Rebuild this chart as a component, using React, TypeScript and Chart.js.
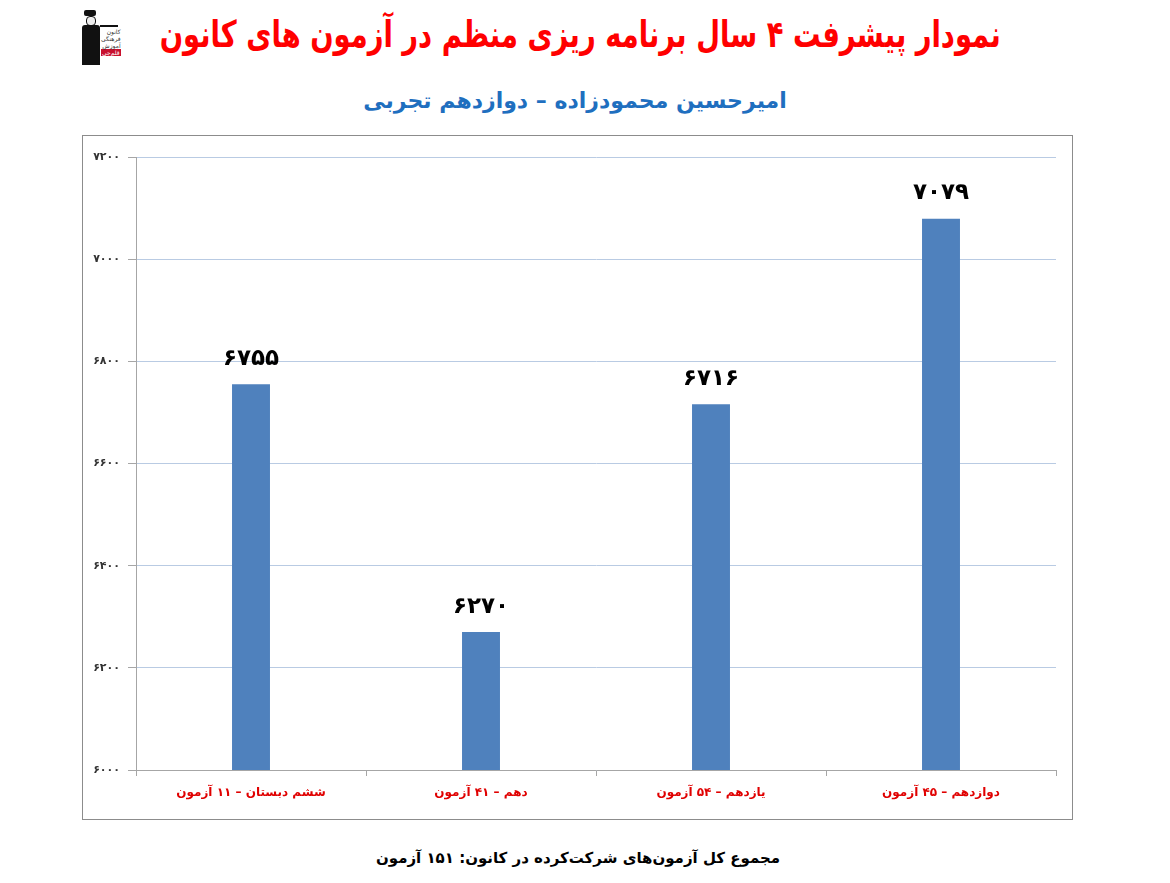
import React, { useEffect, useRef } from "react";
import { Chart, registerables } from "chart.js";

Chart.register(...registerables);

const titleText = "نمودار پیشرفت ۴ سال برنامه ریزی منظم در آزمون های کانون";
const subtitleText = "امیرحسین محمودزاده – دوازدهم تجربی";
const footerText = "مجموع کل آزمون‌های شرکت‌کرده در کانون: ۱۵۱ آزمون";

const categories = [
  "ششم دبستان – ۱۱ آزمون",
  "دهم – ۴۱ آزمون",
  "یازدهم – ۵۴ آزمون",
  "دوازدهم – ۴۵ آزمون",
];
const scores = [6755, 6270, 6716, 7079];
const yMin = 6000;
const yMax = 7200;
const yStep = 200;

const FONT = "'DejaVu Sans', 'Noto Sans', sans-serif";

const toFa = (v: number | string) =>
  String(v).replace(/\d/g, (d) => "۰۱۲۳۴۵۶۷۸۹"[Number(d)]);

const valueLabels = {
  id: "valueLabels",
  afterDatasetsDraw(chart: any) {
    const ctx = chart.ctx;
    const meta = chart.getDatasetMeta(0);
    ctx.save();
    ctx.font = `bold 23px ${FONT}`;
    ctx.fillStyle = "#000";
    ctx.textAlign = "center";
    ctx.textBaseline = "bottom";
    meta.data.forEach((bar: any, i: number) => {
      ctx.fillText(toFa(chart.data.datasets[0].data[i]), bar.x, bar.y - 14);
    });
    ctx.restore();
  },
};

export default function App() {
  const ref = useRef<HTMLCanvasElement | null>(null);

  useEffect(() => {
    if (!ref.current) return;
    const chart = new Chart(ref.current, {
      type: "bar",
      data: {
        labels: categories,
        datasets: [
          {
            data: scores,
            backgroundColor: "#4f81bd",
            borderWidth: 0,
            barPercentage: 0.165,
            categoryPercentage: 1,
          },
        ],
      },
      options: {
        animation: false,
        responsive: false,
        maintainAspectRatio: false,
        layout: { padding: { left: 0, right: 16, top: 21, bottom: 0 } },
        plugins: {
          legend: { display: false },
          tooltip: { enabled: false },
          title: { display: false },
        },
        scales: {
          x: {
            grid: {
              display: true,
              drawOnChartArea: false,
              drawTicks: true,
              tickLength: 6,
              tickColor: "#a6a6a6",
              offset: true,
            },
            border: { color: "#a6a6a6", width: 1 },
            ticks: {
              color: "#e00000",
              font: { family: FONT, size: 12, weight: "bold" },
              padding: 10,
              maxRotation: 0,
            },
            afterFit: (s: any) => {
              s.height = 49;
            },
          },
          y: {
            min: yMin,
            max: yMax,
            ticks: {
              stepSize: yStep,
              color: "#333",
              font: { family: FONT, size: 11, weight: "bold" },
              padding: 8,
              callback: (v: any) => toFa(v),
            },
            grid: {
              color: "#b9cbe3",
              tickColor: "#a6a6a6",
              tickLength: 8,
            },
            border: { color: "#a6a6a6", width: 1 },
            afterFit: (s: any) => {
              s.width = 53;
            },
          },
        },
      },
      plugins: [valueLabels],
    });
    return () => chart.destroy();
  }, []);

  const abs = (l: number, t: number, extra: React.CSSProperties = {}): React.CSSProperties => ({
    position: "absolute",
    left: l,
    top: t,
    ...extra,
  });

  return (
    <div style={{ position: "absolute", left: 0, top: 0, width: 1170, height: 883, background: "#fff", fontFamily: FONT }}>
      {/* logo */}
      <div style={abs(80, 10, { width: 40, height: 56 })}>
        <div style={abs(4, 0, { width: 12, height: 6, background: "#111", borderRadius: 2 })} />
        <div style={abs(6, 6, { width: 8, height: 8, background: "#eee", border: "1px solid #111", borderRadius: 4 })} />
        <div style={abs(2, 15, { width: 18, height: 40, background: "#111", borderRadius: "3px 3px 0 0" })} />
        <div style={abs(20, 15, { width: 18, height: 2, background: "#111" })} />
        <div style={abs(21, 18, { fontSize: 6, lineHeight: "7px", color: "#333", direction: "rtl", whiteSpace: "nowrap" })}>
          <div>کانون</div>
          <div>فرهنگی</div>
          <div>آموزش</div>
          <div style={{ background: "#c8102e", color: "#fff", padding: "0 1px" }}>قلم‌چی</div>
        </div>
      </div>

      <div style={abs(0, 8, { width: 1160, textAlign: "center" })}>
        <span dir="rtl" style={{ display: "inline-block", color: "#ff0000", fontWeight: "bold", fontSize: 37, lineHeight: "54px", whiteSpace: "nowrap", transform: "scaleX(0.74)", transformOrigin: "50% 50%" }}>
          {titleText}
        </span>
      </div>
      <div dir="rtl" style={abs(0, 84, { width: 1150, textAlign: "center", color: "#1f6fbf", fontWeight: "bold", fontSize: 22, lineHeight: "34px", whiteSpace: "nowrap" })}>
        {subtitleText}
      </div>

      <div style={abs(82, 135, { width: 991, height: 685, boxSizing: "border-box", border: "1px solid #8c8c8c" })}>
        <canvas ref={ref} width={989} height={683} style={{ display: "block", width: 989, height: 683 }} />
      </div>

      <div dir="rtl" style={abs(0, 845, { width: 1156, textAlign: "center", color: "#000", fontWeight: "bold", fontSize: 15, lineHeight: "26px", whiteSpace: "nowrap" })}>
        {footerText}
      </div>
    </div>
  );
}
